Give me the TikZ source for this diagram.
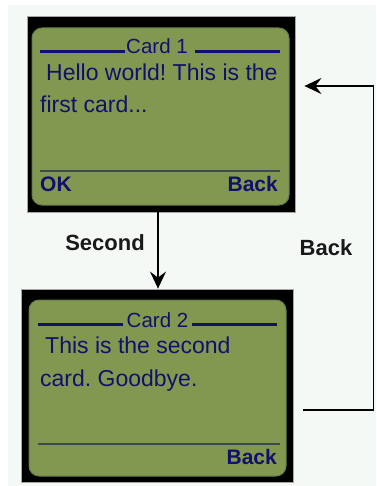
\documentclass[tikz,border=0pt]{standalone}
\usepackage{fontspec}
\setmainfont{Liberation Sans}
\frenchspacing
\usetikzlibrary{arrows.meta,calc}
\definecolor{bgc}{RGB}{245,249,246}
\definecolor{scr}{RGB}{130,152,80}
\definecolor{scredge}{RGB}{100,125,70}
\definecolor{navy}{RGB}{16,16,110}
\definecolor{sepc}{RGB}{60,75,80}
\begin{document}
\begin{tikzpicture}[x=1pt,y=-1pt,
  bezel/.style={draw=gray!70,line width=0.8pt,fill=black,inner sep=0pt},
  screen/.style={fill=scr,draw=scredge,line width=1pt,rounded corners=10pt,inner sep=0pt},
  body/.style={text=navy,font=\fontsize{23}{27}\selectfont,inner sep=0pt,anchor=base west},
  title/.style={text=navy,font=\fontsize{20.5}{24}\selectfont,inner sep=0pt,anchor=base},
  soft/.style={text=navy,font=\bfseries\fontsize{21}{24}\selectfont,inner sep=0pt},
  tline/.style={navy,line width=3pt},
  sep/.style={sepc,line width=1.3pt},
  conn/.style={black,line width=1.8pt},
  tip/.style={-{Stealth[length=17pt,width=16pt,inset=6pt]}},
  lbl/.style={font=\bfseries\fontsize{22}{26}\selectfont,inner sep=0pt,text=black!90}]
\useasboundingbox (0,0) rectangle (376,486);
\fill[white] (0,0) rectangle (376,486);
\fill[bgc] (8,5) rectangle (376,486);
% Card 1
\node[bezel,minimum width=268pt,minimum height=196pt] (card1) at (161,114) {};
\node[screen,minimum width=257pt,minimum height=177pt] (scr1) at (160.5,116.5) {};
\draw[tline] (40,52) -- (125,52);
\draw[tline] (195,52) -- (280,52);
\node[title] (t1) at (157,54) {Card 1};
\node[body] (h1) at (46,81) {Hello world! This is the};
\node[body] (h2) at (40,113) {first card...};
\draw[sep] (40,171) -- (280,171);
\node[soft,anchor=base west] (ok) at (40,191) {OK};
\node[soft,anchor=base east] (bk1) at (278,191) {Back};
% Card 2
\node[bezel,minimum width=272pt,minimum height=193pt] (card2) at (157,385.5) {};
\node[screen,minimum width=257pt,minimum height=176pt] (scr2) at (157.5,388) {};
\draw[tline] (38,324) -- (123,324);
\draw[tline] (192,324) -- (277,324);
\node[title] (t2) at (157.5,327) {Card 2};
\node[body] (s1) at (45,353) {This is the second};
\node[body] (s2) at (40,386) {card. Goodbye.};
\draw[sep] (38,444) -- (280,444);
\node[soft,anchor=base east] (bk2) at (277,464) {Back};
% connectors
\draw[conn,tip] ($(card1.south)+(-3,0)$) -- ($(card2.north)+(1,0)$);
\node[lbl] (lsec) at (105,243) {Second};
\draw[conn,tip] ($(card2.east)+(10,24.5)$) -- ++(70,0) |- ($(card1.east)+(9,-28)$);
\node[lbl] (lback) at (326,248) {Back};
\end{tikzpicture}
\end{document}
